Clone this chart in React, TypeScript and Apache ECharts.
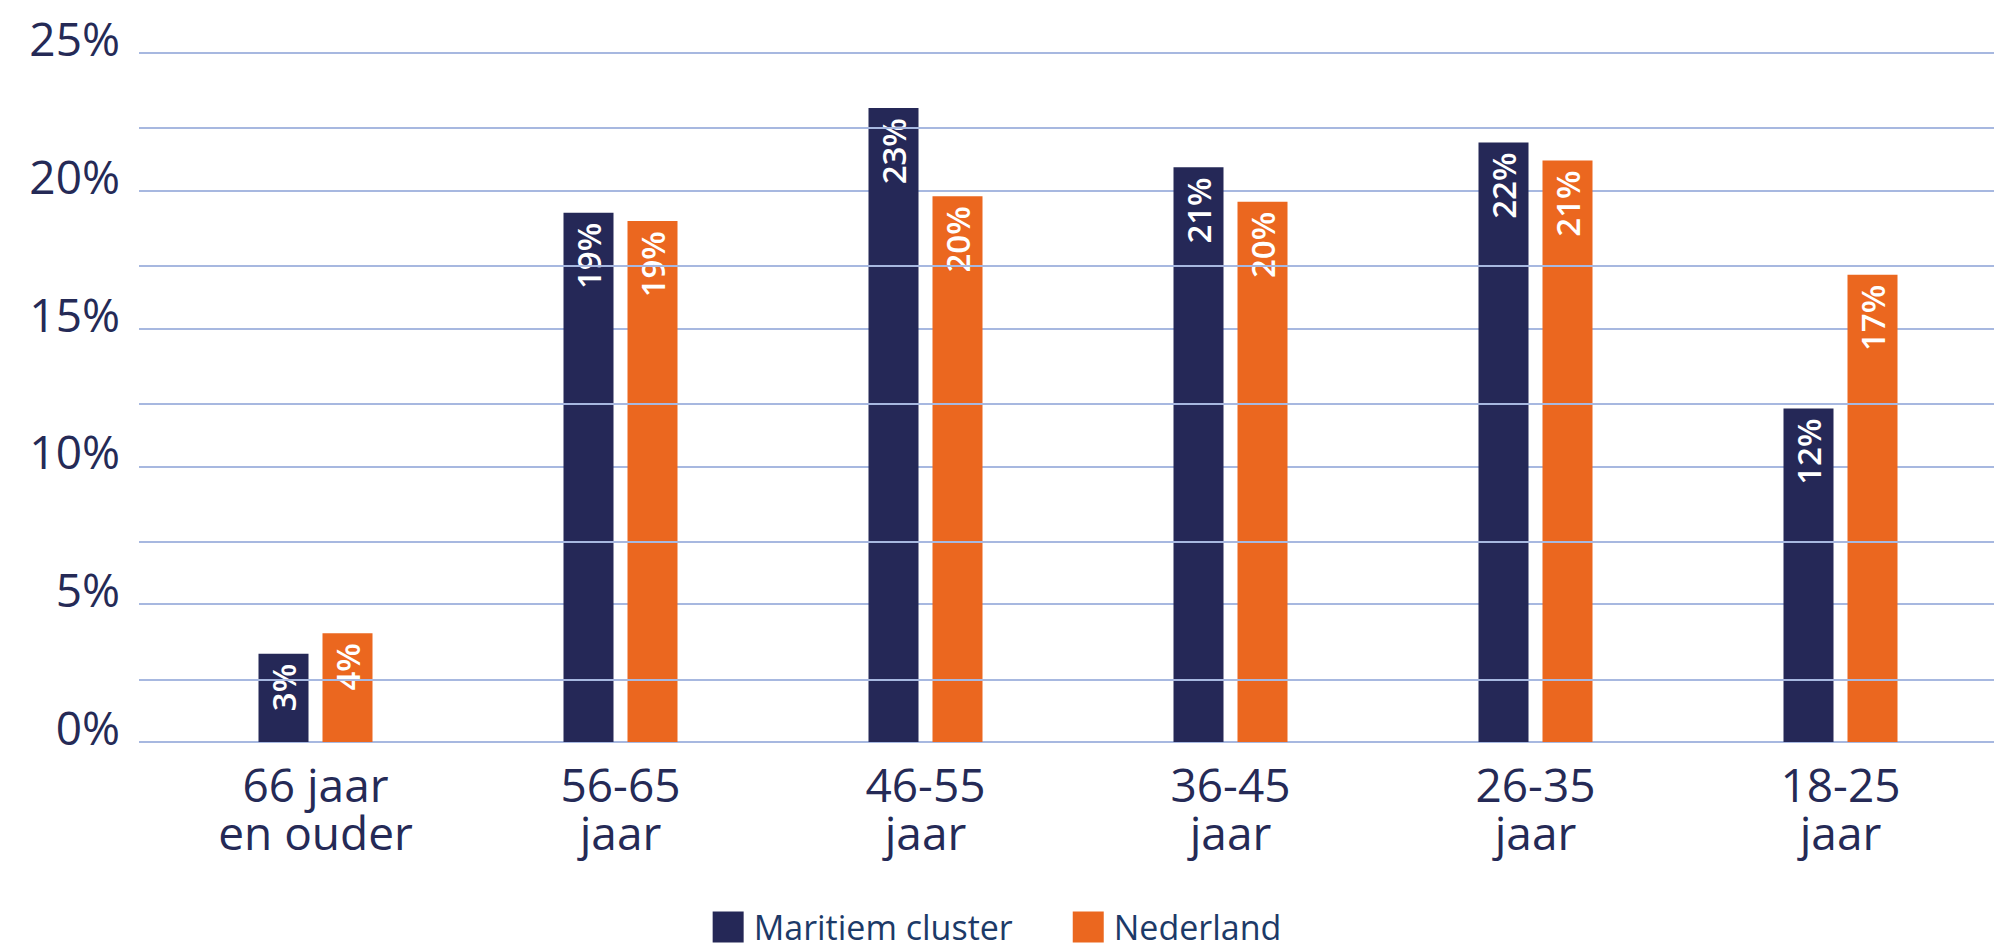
import React, { useEffect, useRef } from "react";
import * as echarts from "echarts";

const categories = [
  "66 jaar\nen ouder",
  "56-65\njaar",
  "46-55\njaar",
  "36-45\njaar",
  "26-35\njaar",
  "18-25\njaar",
];
const maritiemCluster = [3.2, 19.2, 23.0, 20.85, 21.75, 12.1];
const nederland = [3.95, 18.9, 19.8, 19.6, 21.1, 16.95];
const seriesNames = ["Maritiem cluster", "Nederland"];
const yMin = 0;
const yMax = 25;
const yInterval = 5;
// extra (unlabelled) horizontal gridlines as seen in the reference
const minorGridValues = [2.27, 7.27, 12.27, 17.27, 22.28];

const NAVY = "#252857";
const ORANGE = "#eb671f";
const GRID = "#a7b8e0";
const TEXT = "#252a56";
const FONT = "Open Sans";

export default function App() {
  const ref = useRef<HTMLDivElement>(null);

  useEffect(() => {
    if (!ref.current) return;
    const chart = echarts.init(ref.current, undefined, { renderer: "svg" });

    const barLabel = {
      show: true,
      position: "insideTop",
      distance: 10,
      rotate: 90,
      align: "right",
      verticalAlign: "middle",
      color: "#ffffff",
      fontFamily: FONT,
      fontWeight: 600,
      fontSize: 33,
      formatter: (p: any) => Math.round(p.value) + "%",
    };

    chart.setOption({
      animation: false,
      backgroundColor: "#ffffff",
      legend: {
        top: 905,
        left: "center",
        itemWidth: 31,
        itemHeight: 31,
        itemGap: 60,
        icon: "rect",
        data: seriesNames,
        textStyle: {
          fontFamily: FONT,
          fontSize: 34,
          lineHeight: 34,
          color: "#1c3a68",
          padding: [0, 0, 0, 5],
        },
      },
      grid: [
        { left: 163, right: 1, top: 53, bottom: 206 },
        { left: 139, right: 0, top: 53, bottom: 206 },
      ],
      xAxis: [
        {
          type: "category",
          gridIndex: 0,
          data: categories,
          axisLine: { show: false },
          axisTick: { show: false },
          axisLabel: {
            margin: 18,
            fontFamily: FONT,
            fontSize: 46,
            lineHeight: 48,
            color: TEXT,
          },
        },
        {
          type: "value",
          gridIndex: 1,
          min: 0,
          max: 1,
          show: false,
        },
      ],
      yAxis: [
        {
          type: "value",
          gridIndex: 0,
          min: yMin,
          max: yMax,
          interval: yInterval,
          show: false,
          splitLine: { show: false },
        },
        {
          type: "value",
          gridIndex: 1,
          min: yMin,
          max: yMax,
          interval: yInterval,
          axisLine: { show: false },
          axisTick: { show: false },
          splitLine: { show: true, lineStyle: { color: GRID, width: 2 } },
          axisLabel: {
            margin: 19,
            fontFamily: FONT,
            fontSize: 46,
            color: TEXT,
            verticalAlign: "bottom",
            lineHeight: 30,
            formatter: "{value}%",
          },
        },
      ],
      series: [
        {
          name: "minorGrid",
          type: "line",
          xAxisIndex: 1,
          yAxisIndex: 1,
          data: [],
          z: 1,
          silent: true,
          markLine: {
            silent: true,
            symbol: "none",
            label: { show: false },
            lineStyle: { color: GRID, width: 2, type: "solid" },
            data: minorGridValues.map((v) => ({ yAxis: v })),
          },
        },
        {
          name: seriesNames[0],
          type: "bar",
          xAxisIndex: 0,
          yAxisIndex: 0,
          data: maritiemCluster,
          barWidth: 50,
          barGap: "28%",
          itemStyle: { color: NAVY },
          label: barLabel,
          z: 3,
        },
        {
          name: seriesNames[1],
          type: "bar",
          xAxisIndex: 0,
          yAxisIndex: 0,
          data: nederland,
          barWidth: 50,
          barGap: "28%",
          itemStyle: { color: ORANGE },
          label: barLabel,
          z: 3,
        },
      ],
    });

    return () => chart.dispose();
  }, []);

  return (
    <div
      ref={ref}
      style={{ position: "fixed", left: 0, top: 0, width: 1994, height: 948 }}
    />
  );
}
